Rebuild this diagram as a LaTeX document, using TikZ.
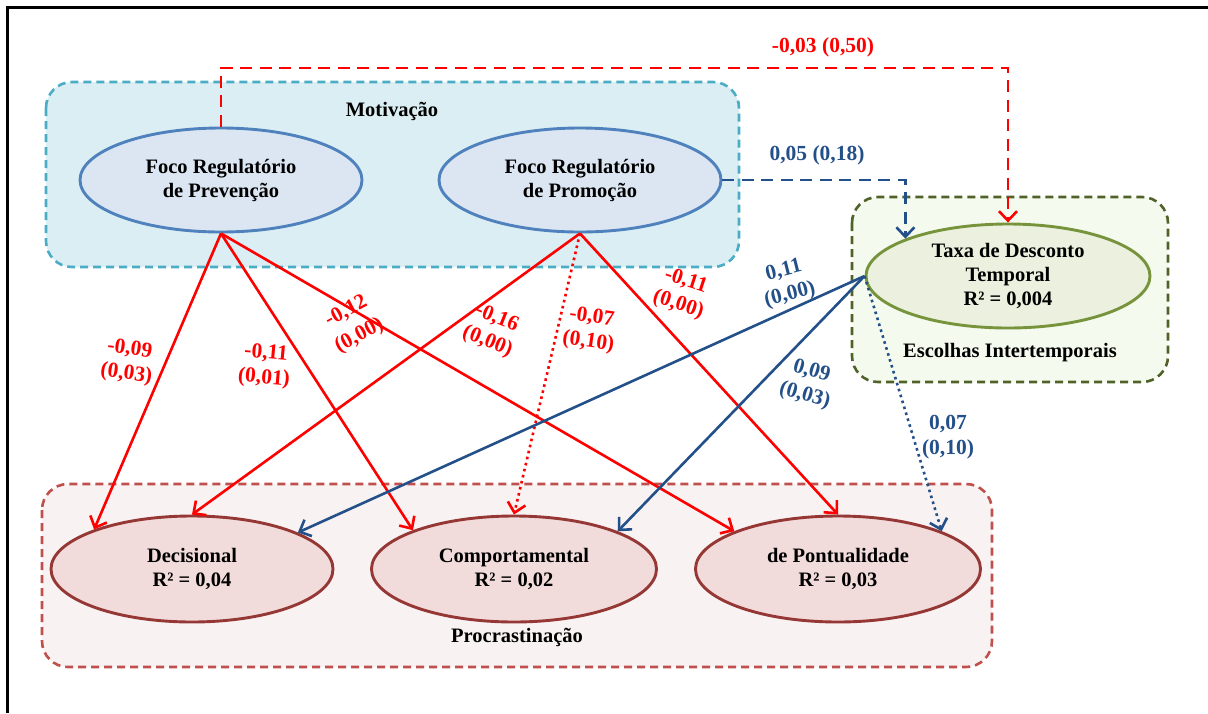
\documentclass[tikz,border=0pt]{standalone}
\usepackage{fontspec}
\setmainfont{Liberation Serif}
\usetikzlibrary{arrows.meta,shapes.geometric}

\definecolor{motfill}{HTML}{DBEEF4}
\definecolor{motline}{HTML}{4BACC6}
\definecolor{focofill}{HTML}{DCE6F2}
\definecolor{focoline}{HTML}{4F81BD}
\definecolor{escfill}{HTML}{F5FAEF}
\definecolor{escline}{HTML}{4F6228}
\definecolor{taxafill}{HTML}{EBF1DE}
\definecolor{taxaline}{HTML}{77933C}
\definecolor{procfill}{HTML}{F9F2F2}
\definecolor{procline}{HTML}{C0504D}
\definecolor{procell}{HTML}{F2DCDB}
\definecolor{procellline}{HTML}{953735}
\definecolor{pathblue}{HTML}{24508A}

\begin{document}
\begin{tikzpicture}[x=1pt,y=-1pt,
  every node/.style={font=\fontsize{20.5}{24}\selectfont\bfseries},
  groupbox/.style={line width=2.6pt, rounded corners=26pt, dash pattern=on 8pt off 5pt},
  construct/.style={ellipse, minimum width=282pt, minimum height=104pt, inner sep=0pt,
                    line width=2.9pt, align=center},
  coef/.style={align=center, inner sep=1pt, font=\fontsize{21.5}{25}\selectfont\bfseries},
  redlbl/.style={coef, text=red},
  bluelbl/.style={coef, text=pathblue},
  tip/.style={-{Straight Barb[length=9.5pt,width=18pt]}},
  redpath/.style={tip, draw=red, line width=2.6pt},
  bluepath/.style={tip, draw=pathblue, line width=2.6pt},
  dottedpath/.style={dash pattern=on 2.6pt off 3.6pt},
  longdash/.style={dash pattern=on 12pt off 7.5pt}
]
\useasboundingbox (0,0) rectangle (1208,713);

% outer frame (top and left edges)
\draw[line width=3.5pt] (7.5,713) -- (7.5,7.5) -- (1208,7.5);

% group boxes
\draw[groupbox, draw=motline, fill=motfill] (46,82) rectangle (739,267);
\draw[groupbox, draw=escline, fill=escfill] (852,197) rectangle (1168,382);
\draw[groupbox, draw=procline, fill=procfill] (42,484) rectangle (992,667);

% group titles
\node (motlbl) at (392,111) {Motivação};
\node (esclbl) at (1010,353) {Escolhas Intertemporais};
\node (proclbl) at (517,637) {Procrastinação};

% constructs
\node[construct, draw=focoline, fill=focofill] (prev) at (221,180) {Foco Regulatório\\de Prevenção};
\node[construct, draw=focoline, fill=focofill] (promo) at (580,180) {Foco Regulatório\\de Promoção};
\node[construct, draw=taxaline, fill=taxafill, minimum width=284pt] (taxa) at (1008,276) {Taxa de Desconto\\Temporal\\R² = 0,004};
\node[construct, draw=procellline, fill=procell, minimum height=106pt] (dec) at (192,569) {Decisional\\R² = 0,04};
\node[construct, draw=procellline, fill=procell, minimum height=106pt, minimum width=285pt] (comp) at (514,569) {Comportamental\\R² = 0,02};
\node[construct, draw=procellline, fill=procell, minimum height=106pt, minimum width=285pt] (pont) at (838,569) {de Pontualidade\\R² = 0,03};

% paths into Taxa de Desconto Temporal
\coordinate (redtop) at (1008,68);
\draw[redpath, longdash] (prev.north) |- (redtop) -- (taxa.north);
\draw[bluepath, longdash] (promo.east) -| (taxa.160);

% paths from Foco Regulatório de Prevenção
\draw[redpath] (prev.south) -- (dec.158.5);
\draw[redpath] (prev.south) -- (comp.159.5);
\draw[redpath] (prev.south) -- (pont.160.7);

% paths from Foco Regulatório de Promoção
\draw[redpath] (promo.south) -- (dec.north);
\draw[redpath, dottedpath] (promo.south) -- (comp.north);
\draw[redpath] (promo.south) -- (pont.north);

% paths from Taxa de Desconto Temporal
\draw[bluepath] (taxa.west) -- (dec.19.3);
\draw[bluepath] (taxa.west) -- (comp.20.3);
\draw[bluepath, dottedpath] (taxa.west) -- (pont.20.9);

% coefficients (p-values)
\node[redlbl] (l1) at (823,47) {-0,03 (0,50)};
\node[bluelbl] (l2) at (817,155) {0,05 (0,18)};
\node[redlbl, rotate=-8] (l3) at (128,362) {-0,09\\(0,03)};
\node[redlbl, rotate=-5] (l4) at (265,366) {-0,11\\(0,01)};
\node[redlbl, rotate=28, font=\fontsize{21.5}{28}\selectfont\bfseries] (l5) at (353,324) {-0,12\\(0,00)};
\node[redlbl, rotate=-22] (l6) at (492,330) {-0,16\\(0,00)};
\node[redlbl, rotate=-8] (l7) at (590,330) {-0,07\\(0,10)};
\node[redlbl, rotate=-18] (l8) at (682,293) {-0,11\\(0,00)};
\node[bluelbl, rotate=14] (l9) at (787,283) {0,11\\(0,00)};
\node[bluelbl, rotate=-16] (l10) at (808,384) {0,09\\(0,03)};
\node[bluelbl] (l11) at (948,437) {0,07\\(0,10)};
\end{tikzpicture}
\end{document}
